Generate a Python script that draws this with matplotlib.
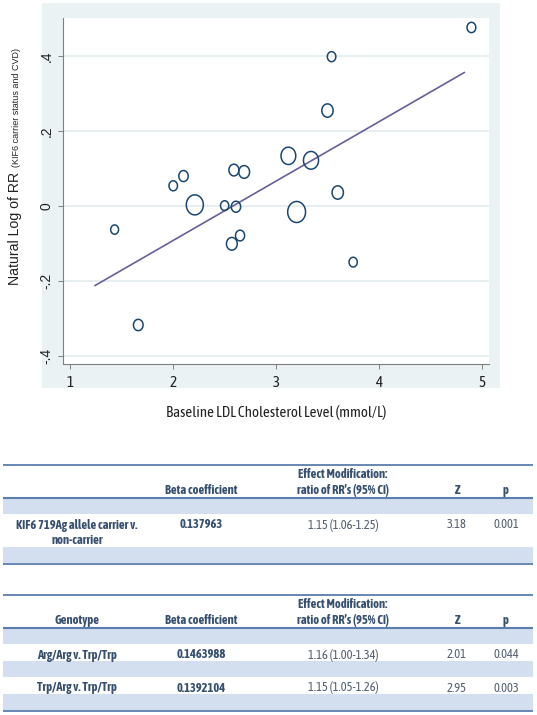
import numpy as np
import matplotlib
matplotlib.use("Agg")
from matplotlib import pyplot as plt
from matplotlib import font_manager as fm
from matplotlib import patheffects as pe
from matplotlib.path import Path
from matplotlib.patches import Rectangle

# scatter data: baseline LDL (mmol/L), ln(RR), study weight
ldl = [4.90, 3.54, 3.50, 3.12, 3.34, 2.59, 2.69, 2.10, 2.00, 2.21,
       2.50, 2.61, 3.20, 3.60, 1.43, 2.65, 2.57, 3.75, 1.66]
log_rr = [0.477, 0.399, 0.255, 0.134, 0.122, 0.096, 0.091, 0.080, 0.054, 0.003,
          0.001, -0.002, -0.016, 0.036, -0.063, -0.079, -0.101, -0.150, -0.318]
weights = [106, 100, 177, 300, 313, 137, 161, 121, 100, 400,
           94, 121, 441, 177, 86, 114, 161, 94, 128]

# fitted line
fit_x = [1.24, 4.83]
fit_slope = 0.1585
fit_intercept = -0.409

x_ticks = [1, 2, 3, 4, 5]
y_ticks = [-0.4, -0.2, 0, 0.2, 0.4]
y_tick_labels = ['-.4', '-.2', '0', '.2', '.4']

table1_header = ['', 'Beta coefficient', 'Effect Modification:\nratio of RR\u2019s (95% CI)', 'Z', 'p']
table1_rows = [['KIF6 719Ag allele carrier v.\nnon-carrier', '0.137963', '1.15 (1.06-1.25)', '3.18', '0.001']]
table2_header = ['Genotype', 'Beta coefficient', 'Effect Modification:\nratio of RR\u2019s (95% CI)', 'Z', 'p']
table2_rows = [['Arg/Arg v. Trp/Trp', '0.1463988', '1.16 (1.00-1.34)', '2.01', '0.044'],
               ['Trp/Arg v. Trp/Trp', '0.1392104', '1.15 (1.05-1.26)', '2.95', '0.003']]

# pick a narrow sans font, preferring one that has a bold face
fams = {}
for f in fm.fontManager.ttflist:
    if ('Narrow' in f.name or 'Condensed' in f.name) and 'Mono' not in f.name and 'Serif' not in f.name:
        w = f.weight if isinstance(f.weight, int) else 400
        fams.setdefault(f.name, set()).add(w)
narrow, nscale, has_bold = 'Liberation Sans', 0.78, True
if fams:
    best = sorted(fams, key=lambda n: (max(fams[n]) < 700, 400 not in fams[n], n))[0]
    narrow, nscale, has_bold = best, 1.0, max(fams[best]) >= 700
plt.rcParams['font.family'] = ['Liberation Sans', 'DejaVu Sans']


def bold_kw():
    if has_bold:
        return dict(fontweight='bold')
    return dict(fontweight='normal', path_effects=[pe.withStroke(linewidth=0.6, foreground=bold_c)])


W, H = 537, 715
fig = plt.figure(figsize=(W / 100, H / 100), dpi=100)

# background layer in pixel coords
bg = fig.add_axes([0, 0, 1, 1], zorder=0)
bg.set_xlim(0, W)
bg.set_ylim(H, 0)
bg.axis('off')
bg.add_patch(Rectangle((42, 3), 458, 385, color='#eaf2f3', lw=0))

# scatter plot
ax = fig.add_axes([63 / W, 1 - 364.3 / H, 426 / W, 346 / H], zorder=1)
ax.set_facecolor('white')
ax.set_xlim(0.928, 5.071)
ax.set_ylim(-0.423, 0.5015)

t = np.linspace(0, 2 * np.pi, 60)
ellipse = Path(np.column_stack([0.85 * np.cos(t), np.sin(t)]))
sizes = np.array(weights) * 0.52
ax.scatter(ldl, log_rr, s=sizes, marker=ellipse, facecolors='none',
           edgecolors='#1a476f', linewidths=1.1, zorder=3)

fx = np.array(fit_x)
ax.plot(fx, fit_intercept + fit_slope * fx, color='#65609a', lw=1.2, zorder=2)

ax.set_xticks(x_ticks)
ax.set_xticklabels([str(v) for v in x_ticks], fontfamily=narrow, fontsize=11 * nscale ** 0.5, color='#222222')
ax.set_yticks(y_ticks)
ax.set_yticklabels(y_tick_labels, fontsize=10, color='#222222', rotation=90, va='center')
ax.grid(axis='y', color='#e6eef0', lw=1.4)
ax.set_axisbelow(True)
for s in ['top', 'right']:
    ax.spines[s].set_visible(False)
for s in ['left', 'bottom']:
    ax.spines[s].set_color('#7f7f7f')
    ax.spines[s].set_linewidth(0.8)
ax.tick_params(direction='out', length=3.6, width=0.7, color='#7f7f7f')
ax.tick_params(axis='y', pad=3)
ax.tick_params(axis='x', pad=4.5)

fig.text(276 / W, 1 - 412 / H, 'Baseline LDL Cholesterol Level (mmol/L)', ha='center', va='center',
         fontfamily=narrow, fontsize=10.8 * nscale, color='#222222')
fig.text(19 / W, 1 - 285 / H, 'Natural Log of RR', rotation=90, rotation_mode='anchor',
         ha='left', va='baseline', fontsize=10.2, color='#222222')
fig.text(19 / W, 1 - 167 / H, '(KIF6 carrier status and CVD)', rotation=90, rotation_mode='anchor',
         ha='left', va='baseline', fontsize=6.5, color='#222222')

# tables
col_x = [77, 201, 343, 456.5, 506]
line_c = '#5a7eae'
band_c = '#d3dfee'
bold_c = '#37506f'
val_c = '#52606f'
tsize = 9 * nscale


def draw_table(top, header, rows):
    bg.hlines(top, 3, 533, color=line_c, lw=1.3)
    hline = top + 33
    for j, cell in enumerate(header):
        parts = cell.split('\n')
        for k, p in enumerate(parts):
            y = hline - 7.5 - 16.5 * (len(parts) - 1 - k)
            bg.text(col_x[j], y, p, ha='center', va='center', fontfamily=narrow,
                    fontsize=tsize, color=bold_c, **bold_kw())
    y = hline
    bg.add_patch(Rectangle((3, y), 530, 16, color=band_c, lw=0))
    y += 16
    for row in rows:
        nl = max(len(c.split('\n')) for c in row)
        for j, cell in enumerate(row):
            for k, p in enumerate(cell.split('\n')):
                kw = bold_kw() if j < 2 else dict(fontweight='normal')
                bg.text(col_x[j], y + 11 + 16 * k, p, ha='center', va='center', fontfamily=narrow,
                        fontsize=tsize, color=bold_c if j < 2 else val_c, **kw)
        y += 16 * nl + 1
        bg.add_patch(Rectangle((3, y), 530, 16, color=band_c, lw=0))
        y += 16
    bg.hlines(hline, 3, 533, color=line_c, lw=1.5)
    bg.hlines(y + 1, 3, 533, color=line_c, lw=1.3)


draw_table(465, table1_header, table1_rows)
draw_table(595, table2_header, table2_rows)

fig.savefig('out.png', dpi=100)
